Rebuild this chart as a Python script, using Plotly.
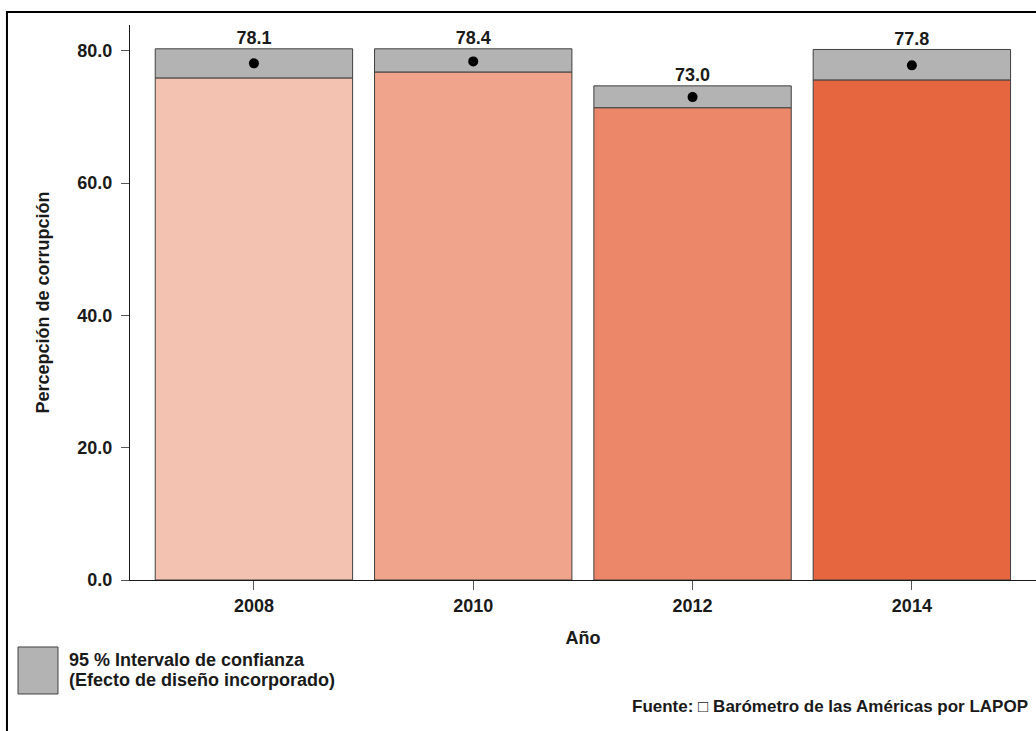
import plotly.graph_objects as go

years = ["2008", "2010", "2012", "2014"]
means = [78.1, 78.4, 73.0, 77.8]
ci_low = [75.9, 76.8, 71.4, 75.6]
ci_high = [80.3, 80.3, 74.7, 80.2]
bar_colors = ["#F4C2B0", "#F0A48C", "#EC8769", "#E66640"]
value_labels = ["78.1", "78.4", "73.0", "77.8"]
y_ticks = [0, 20, 40, 60, 80]

FONT = "Liberation Sans, Arial, sans-serif"
TXT = "#1a1a1a"
fig = go.Figure()

fig.add_trace(go.Bar(
    x=years, y=ci_low, width=0.9,
    marker=dict(color=bar_colors, line=dict(color="#404040", width=1)),
    showlegend=False, hoverinfo="skip"))
fig.add_trace(go.Bar(
    x=years, y=[h - l for h, l in zip(ci_high, ci_low)], base=ci_low, width=0.9,
    marker=dict(color="#B3B3B3", line=dict(color="#404040", width=1)),
    showlegend=False, hoverinfo="skip"))
fig.add_trace(go.Scatter(
    x=years, y=means, mode="markers",
    marker=dict(color="black", size=10), showlegend=False, hoverinfo="skip"))
fig.add_trace(go.Scatter(
    x=years, y=ci_high, mode="text", text=value_labels, textposition="top center",
    textfont=dict(family=FONT, size=18, color=TXT, weight="bold"),
    showlegend=False, hoverinfo="skip"))

fig.update_layout(
    width=1036, height=731,
    margin=dict(l=130, r=0, t=25, b=151),
    paper_bgcolor="white", plot_bgcolor="white",
    barmode="overlay", bargap=0.1,
    font=dict(family=FONT, color=TXT),
    xaxis=dict(
        type="category", range=[-0.565, 3.566],
        showline=True, linecolor=TXT, linewidth=1,
        ticks="outside", ticklen=9, tickcolor="#555",
        tickfont=dict(family=FONT, size=18, weight="bold"),
        title=dict(text="Año", font=dict(family=FONT, size=18, weight="bold"), standoff=16),
        showgrid=False, zeroline=False),
    yaxis=dict(
        range=[0, 83.9], tickvals=y_ticks, tickformat=".1f",
        showline=True, linecolor=TXT, linewidth=1,
        ticks="outside", ticklen=8, tickcolor="#555", ticklabelstandoff=5,
        tickfont=dict(family=FONT, size=18, weight="bold"),
        title=dict(text="Percepción de corrupción", font=dict(family=FONT, size=18, weight="bold"), standoff=23),
        showgrid=False, zeroline=False),
)

# outer frame
fig.add_shape(type="rect", xref="paper", yref="paper",
              x0=-0.1358, x1=1.05, y0=-0.5, y1=1.0234,
              line=dict(color="black", width=2), fillcolor="rgba(0,0,0,0)", layer="below")
# legend box
fig.add_shape(type="rect", xref="paper", yref="paper",
              x0=-0.1236, x1=-0.0795, y0=-0.2054, y1=-0.1207,
              line=dict(color="#404040", width=1), fillcolor="#B3B3B3")
fig.add_annotation(xref="paper", yref="paper", x=-0.0695, y=(580 - 660) / 555,
                   xanchor="left", yanchor="middle", align="left", showarrow=False,
                   text="95 % Intervalo de confianza",
                   font=dict(family=FONT, size=18, weight="bold", color=TXT))
fig.add_annotation(xref="paper", yref="paper", x=-0.0695, y=(580 - 680) / 555,
                   xanchor="left", yanchor="middle", align="left", showarrow=False,
                   text="(Efecto de diseño incorporado)",
                   font=dict(family=FONT, size=18, weight="bold", color=TXT))
fig.add_annotation(xref="paper", yref="paper", x=(1030 - 130) / 906, y=(580 - 707) / 555,
                   xanchor="right", yanchor="middle", showarrow=False,
                   text="Fuente: \u25a1 Barómetro de las Américas por LAPOP",
                   font=dict(family=FONT, size=17, weight="bold", color=TXT))

fig.write_html("out.html", config={"displayModeBar": False},
               post_script="document.body.style.margin='0px';")
